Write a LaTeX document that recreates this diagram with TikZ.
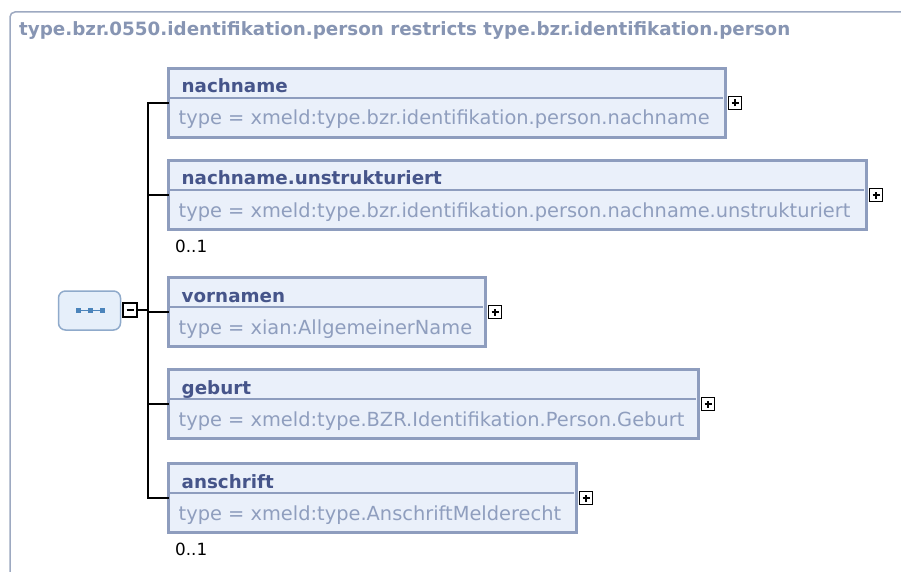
\documentclass[tikz,border=0pt]{standalone}
\usepackage{fontspec}
\setmainfont{DejaVu Sans}
\usetikzlibrary{positioning, calc}
\definecolor{framegray}{HTML}{9DA9C1}
\definecolor{titlegray}{HTML}{8795B3}
\definecolor{elemborder}{HTML}{8E9DBE}
\definecolor{elemfill}{HTML}{EAF0FA}
\definecolor{elemname}{HTML}{46558A}
\definecolor{typegray}{HTML}{8F9EBE}
\definecolor{seqfill}{HTML}{E6EFFA}
\definecolor{seqborder}{HTML}{8FAACB}
\definecolor{seqdot}{HTML}{4B84BB}
\tikzstyle{frame} = [draw=framegray, line width=1.5pt, rounded corners=5pt]
\tikzstyle{title} = [anchor=base west, inner sep=0pt, text=titlegray, font=\fontsize{18.3}{20}\selectfont\bfseries]
\tikzstyle{element} = [rectangle, draw=elemborder, fill=elemfill, line width=3pt, minimum height=69pt, inner sep=0pt, outer sep=0pt, anchor=north west]
\tikzstyle{elemname} = [anchor=base west, inner sep=0pt, text=elemname, font=\fontsize{18.3}{20}\selectfont\bfseries]
\tikzstyle{elemtype} = [anchor=base west, inner sep=0pt, text=typegray, font=\fontsize{19.4}{22}\selectfont]
\tikzstyle{occurs} = [anchor=base west, inner sep=0pt, text=black, font=\fontsize{16.8}{18}\selectfont]
\tikzstyle{divider} = [draw=elemborder, line width=1.5pt]
\tikzstyle{sequence} = [rectangle, rounded corners=7pt, draw=seqborder, fill=seqfill, line width=1.5pt, minimum width=62pt, minimum height=39pt, inner sep=0pt]
\tikzstyle{togglebox} = [rectangle, draw=black, fill=white, line width=1.3pt, minimum size=13pt, inner sep=0pt]
\tikzstyle{minusbox} = [togglebox, minimum size=14pt, path picture={\draw[line width=1.5pt] ([xshift=-3.5pt]path picture bounding box.center) -- ([xshift=3.5pt]path picture bounding box.center);}]
\tikzstyle{plusbox} = [togglebox, path picture={\draw[line width=1.5pt] ([xshift=-3.5pt]path picture bounding box.center) -- ([xshift=3.5pt]path picture bounding box.center) ([yshift=-3.5pt]path picture bounding box.center) -- ([yshift=3.5pt]path picture bounding box.center);}]
\tikzstyle{conn} = [draw=black, line width=2pt]

\begin{document}
\begin{tikzpicture}[x=1pt, y=-1pt]
    \clip (0,0) rectangle (901,572);
    \fill[white] (0,0) rectangle (901,572);

    % outer frame of the complex type
    \draw[frame] (10,600) -- (10,12) -- (920,12);
    \node[title] (title) at (19,35.5) {type.bzr.0550.identifikation.person restricts type.bzr.identifikation.person};

    % sequence compositor
    \node[sequence] (seq) at (89.5,310.5) {};
    \draw[seqdot, line width=1pt] ([xshift=-12pt]seq.center) -- ([xshift=14pt]seq.center);
    \foreach \dx in {-11,1,13}
        \fill[seqdot] ([shift={(\dx-2.2,-2.2)}]seq.center) rectangle ++(4.4,4.4);
    \node[minusbox] (collapse) at (130,310) {};
    \coordinate (trunk) at (148,310);

    % child elements
    \node[element, minimum width=557pt] (nachname) at (168.5,68.5) {};
    \node[element, minimum width=698pt] (unstrukt) at (168.5,160.5) {};
    \node[element, minimum width=317pt] (vornamen) at (168.5,277.5) {};
    \node[element, minimum width=530pt] (geburt) at (168.5,369.5) {};
    \node[element, minimum width=408pt] (anschrift) at (168.5,463.5) {};

    \draw[divider] ([shift={(0,29.5)}]nachname.north west) -- ([shift={(-3,29.5)}]nachname.north east);
    \draw[divider] ([shift={(0,29.5)}]unstrukt.north west) -- ([shift={(-3,29.5)}]unstrukt.north east);
    \draw[divider] ([shift={(0,29.5)}]vornamen.north west) -- ([shift={(-3,29.5)}]vornamen.north east);
    \draw[divider] ([shift={(0,29.5)}]geburt.north west) -- ([shift={(-3,29.5)}]geburt.north east);
    \draw[divider] ([shift={(0,29.5)}]anschrift.north west) -- ([shift={(-3,29.5)}]anschrift.north east);

    \node[elemname] (nachname-name) at ([shift={(13,24.5)}]nachname.north west) {nachname};
    \node[elemtype] (nachname-type) at ([shift={(10,56.5)}]nachname.north west) {type = xmeld:type.bzr.identifikation.person.nachname};
    \node[elemname] (unstrukt-name) at ([shift={(13,24.5)}]unstrukt.north west) {nachname.unstrukturiert};
    \node[elemtype] (unstrukt-type) at ([shift={(10,56.5)}]unstrukt.north west) {type = xmeld:type.bzr.identifikation.person.nachname.unstrukturiert};
    \node[elemname] (vornamen-name) at ([shift={(13,24.5)}]vornamen.north west) {vornamen};
    \node[elemtype] (vornamen-type) at ([shift={(10,56.5)}]vornamen.north west) {type = xian:AllgemeinerName};
    \node[elemname] (geburt-name) at ([shift={(13,24.5)}]geburt.north west) {geburt};
    \node[elemtype] (geburt-type) at ([shift={(10,56.5)}]geburt.north west) {type = xmeld:type.BZR.Identifikation.Person.Geburt};
    \node[elemname] (anschrift-name) at ([shift={(13,24.5)}]anschrift.north west) {anschrift};
    \node[elemtype] (anschrift-type) at ([shift={(10,56.5)}]anschrift.north west) {type = xmeld:type.AnschriftMelderecht};

    % expand buttons
    \node[plusbox, right=2.5pt of nachname] (nachname-plus) {};
    \node[plusbox, right=2.5pt of unstrukt] (unstrukt-plus) {};
    \node[plusbox, right=2.5pt of vornamen] (vornamen-plus) {};
    \node[plusbox, right=2.5pt of geburt] (geburt-plus) {};
    \node[plusbox, right=2.5pt of anschrift] (anschrift-plus) {};

    % occurrences
    \node[occurs] (unstrukt-occ) at ([shift={(6.5,22.5)}]unstrukt.south west) {0..1};
    \node[occurs] (anschrift-occ) at ([shift={(6.5,22.5)}]anschrift.south west) {0..1};

    % connectors
    \draw[conn] (collapse.east) -- (trunk);
    \draw[conn] (trunk) |- (nachname.west);
    \draw[conn] (trunk) |- (unstrukt.west);
    \draw[conn] (trunk) |- (vornamen.west);
    \draw[conn] (trunk) |- (geburt.west);
    \draw[conn] (trunk) |- (anschrift.west);
\end{tikzpicture}
\end{document}
